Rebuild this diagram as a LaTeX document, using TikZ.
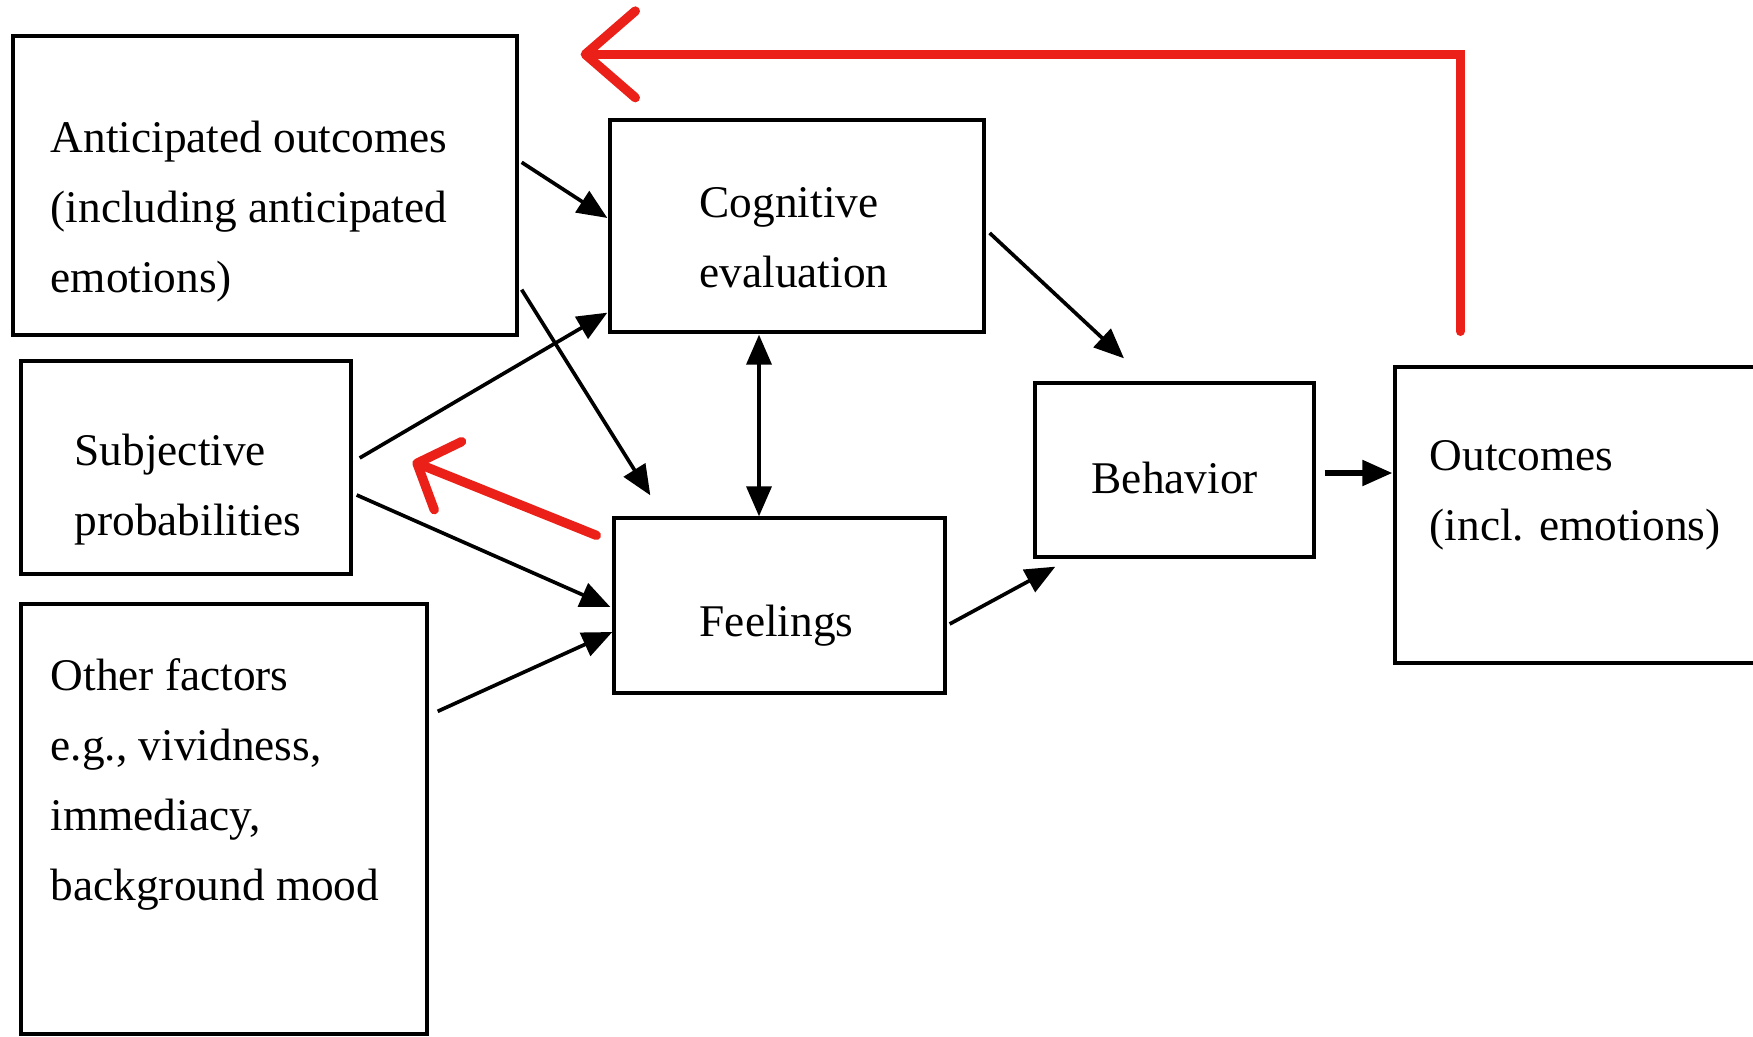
\documentclass[tikz,border=0pt]{standalone}
\usepackage{fontspec}
\setmainfont{Liberation Serif}
\usetikzlibrary{arrows.meta,calc}
\definecolor{red}{rgb}{0.92, 0.13, 0.10}

\begin{document}
\begin{tikzpicture}[x=0.3pt,y=0.3pt,yscale=-1,xscale=1,
	box/.style={draw, line width=1pt, inner sep=0pt},
	boxtext/.style={anchor=north west, inner sep=0pt, align=left, font=\fontsize{13.6}{21}\selectfont},
	arr/.style={line width=1.1pt, -{Triangle[length=9pt,width=7.5pt]}},
	feedback/.style={draw=red, line width=2.8pt, line cap=round}]
		\path[use as bounding box] (0,0) rectangle (1753,1037); % Set diagram size to the reference

		% Draw the boxes
		\node[box, minimum width=151.2pt, minimum height=89.7pt] (antic) at (265,185.5) {};
		\node[box, minimum width=112.2pt, minimum height=63.6pt] (cog) at (797,226) {};
		\node[box, minimum width=99pt, minimum height=63.9pt] (subj) at (186,467.5) {};
		\node[box, minimum width=121.8pt, minimum height=129pt] (other) at (224,819) {};
		\node[box, minimum width=99.3pt, minimum height=52.5pt] (feel) at (779.5,605.5) {};
		\node[box, minimum width=83.7pt, minimum height=52.2pt] (behav) at (1174.5,470) {};
		\node[box, minimum width=109.5pt, minimum height=88.8pt] (outc) at (1577.5,515) {};

		% The texts inside the boxes
		\node[boxtext] (antictext) at (50,120) {Anticipated outcomes\\(including anticipated\\emotions)};
		\node[boxtext] (cogtext) at (699,187) {Cognitive\\evaluation};
		\node[boxtext] (subjtext) at (74,433) {Subjective\\probabilities};
		\node[boxtext] (othertext) at (50,658) {Other factors\\e.g., vividness,\\immediacy,\\background mood};
		\node[boxtext] (feeltext) at (699,604) {Feelings};
		\node[boxtext] (behavtext) at (1091,461) {Behavior};
		\node[boxtext] (outctext) at (1429,440) {Outcomes\\(incl. emotions)};

		% Draw the black arrows between the boxes
		\draw[arr] ($(antic.north east)+(3,128)$) -- ($(cog.west)+(-1,-8)$);
		\draw[arr] ($(antic.south east)+(3,-47)$) -- ($(feel.north west)+(38,-21)$);
		\draw[arr] ($(subj.east)+(7,-9.5)$) -- ($(cog.south west)+(-1,-21)$);
		\draw[arr] ($(subj.east)+(4,27.5)$) -- ($(feel.west)+(-2,1.5)$);
		\draw[arr] ($(other.north east)+(9,109)$) -- ($(feel.west)+(0,26.5)$);
		\draw[arr, {Triangle[length=9pt,width=7.5pt]}-{Triangle[length=9pt,width=7.5pt]}] ($(cog.south)+(-38,1)$) -- ($(feel.north)+(-20.5,0)$);
		\draw[arr] ($(cog.east)+(4,7)$) -- ($(behav.north)+(-50.5,-23)$);
		\draw[arr] ($(feel.east)+(3,18.5)$) -- ($(behav.south west)+(22,8)$);
		\draw[arr, line width=1.6pt] ($(behav.east)+(9,3)$) -- ($(outc.west)+(-1,-42)$);

		% Draw the red feedback arrows
		\draw[feedback, -{Straight Barb[length=15pt,width=26pt,round]}] ($(outc.north west)+(67,-34)$) |- ($(antic.north east)+(62,20)$);
		\draw[feedback, -{Straight Barb[length=10pt,width=22pt,round]}] ($(feel.north west)+(-16,19)$) -- ($(subj.east)+(60,-6)$);
	\end{tikzpicture}
\end{document}
